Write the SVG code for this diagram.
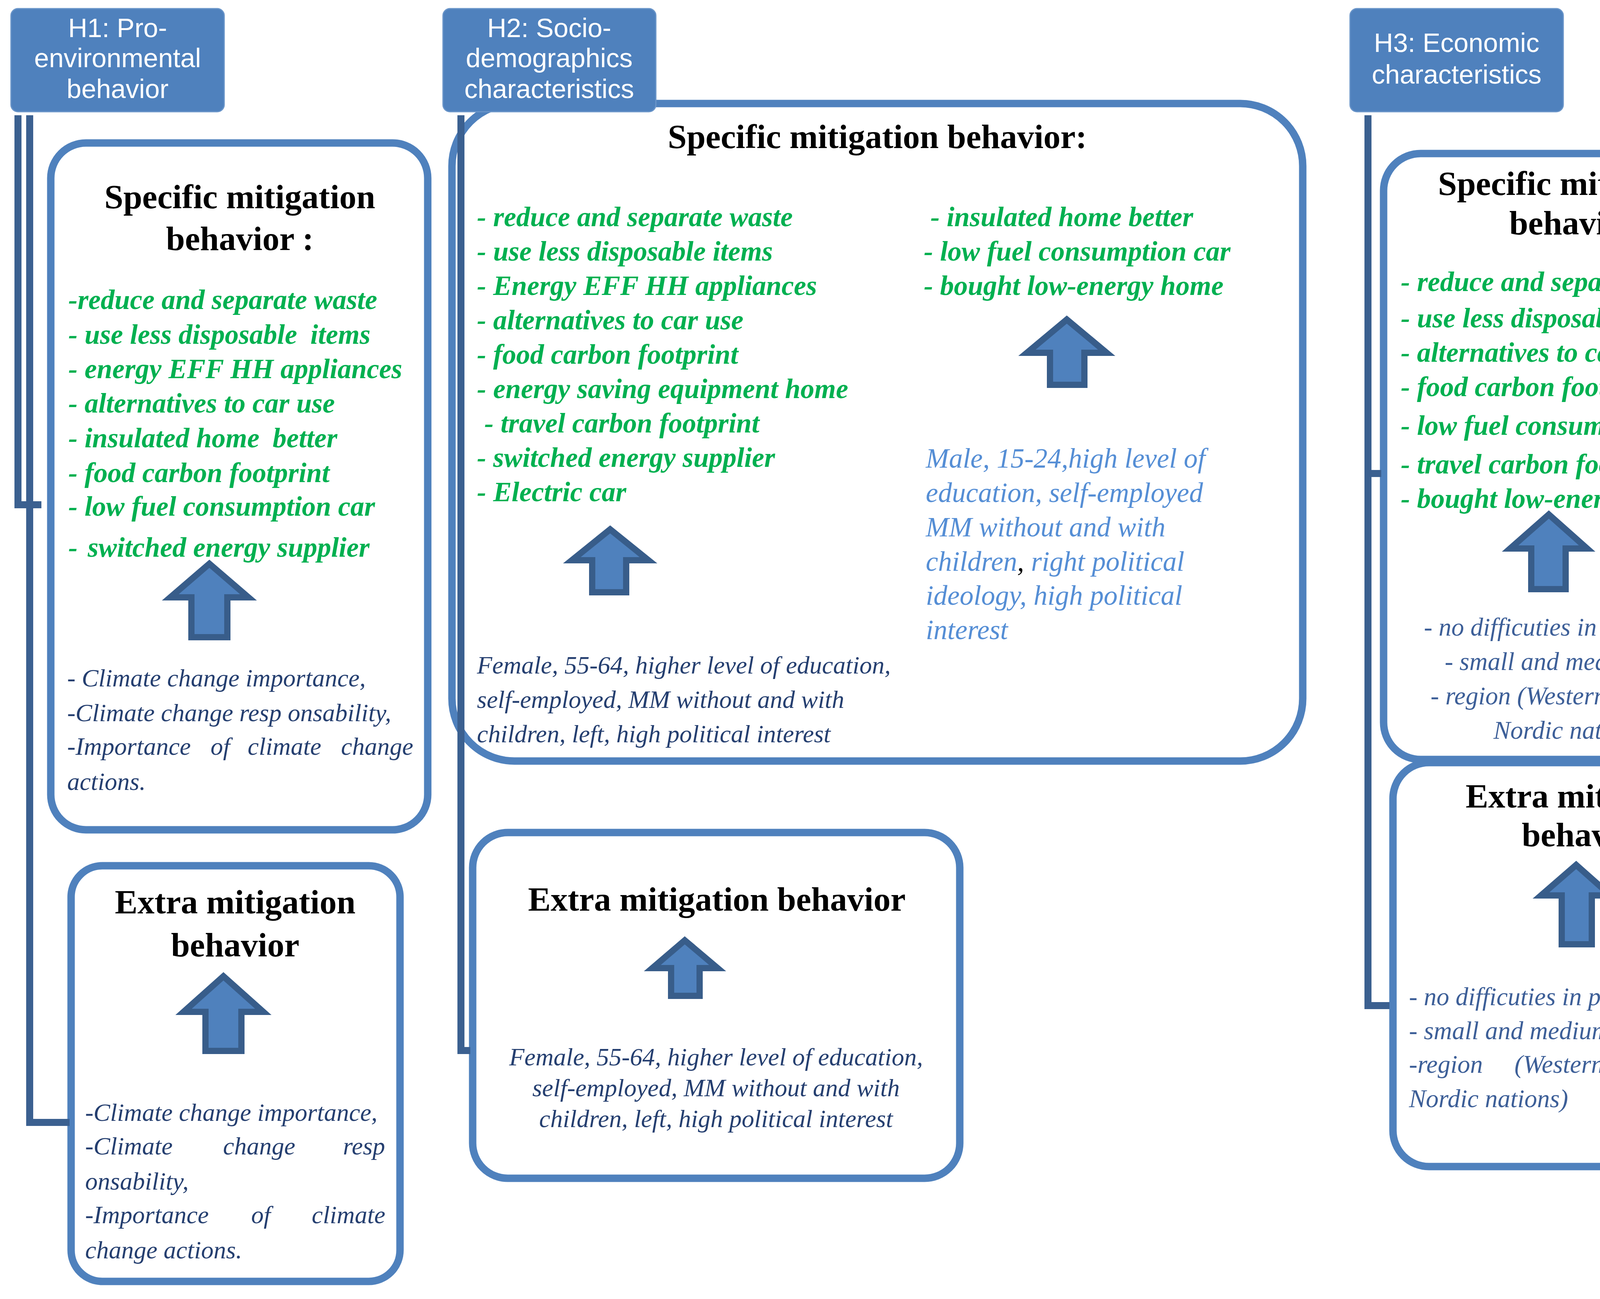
<svg xmlns="http://www.w3.org/2000/svg" width="5376" height="3325" viewBox="0 0 5376 3325">
<style>
text{white-space:pre}
.hdr{fill:#4F81BD;stroke:#6A95C9;stroke-width:3}
.hd{font-family:"Liberation Sans",Arial,sans-serif;font-size:68px;fill:#fff;text-anchor:middle}
.box{fill:#fff;stroke:#4F81BD;stroke-width:19}
.con{fill:none;stroke:#3B6090;stroke-width:18;stroke-linejoin:miter;stroke-linecap:butt}
.arr{fill:#4F81BD;stroke:#385D8A;stroke-width:16;stroke-linejoin:miter}
.tt{font-family:"Liberation Serif","Times New Roman",serif;font-weight:bold;font-size:87px;fill:#000;text-anchor:middle}
.gr{font-family:"Liberation Serif","Times New Roman",serif;font-style:italic;font-weight:bold;font-size:71px;fill:#00B050}
.nv{font-family:"Liberation Serif","Times New Roman",serif;font-style:italic;font-size:64px;fill:#253F70}
.lb{font-family:"Liberation Serif","Times New Roman",serif;font-style:italic;font-size:71px;fill:#558ED5}
.bl{font-family:"Liberation Serif","Times New Roman",serif;font-style:italic;font-size:65px;fill:#3D5F98}
.mid{text-anchor:middle}
</style>
<rect width="5376" height="3325" fill="#fff"/>

<g id="h1-specific">
<rect class="box" x="130" y="366" width="965" height="1758" rx="90"/>
<text class="tt" x="614" y="533">Specific mitigation</text>
<text class="tt" x="614" y="640">behavior :</text>
<text class="gr" x="175" y="791">-reduce and separate waste</text>
<text class="gr" x="175" y="880">- use less disposable <tspan dx="16">items</tspan></text>
<text class="gr" x="175" y="968">- energy EFF HH appliances</text>
<text class="gr" x="175" y="1056">- alternatives to car use</text>
<text class="gr" x="175" y="1145">- insulated home <tspan dx="16">better</tspan></text>
<text class="gr" x="175" y="1234">- food carbon footprint</text>
<text class="gr" x="175" y="1320">- low fuel consumption car</text>
<text class="gr" x="175" y="1425">- <tspan dx="8">switched energy supplier</tspan></text>
<polygon class="arr" points="536,1443 636,1529 582,1529 582,1631 490,1631 490,1529 436,1529"/>
<text class="nv" x="172" y="1757">- Climate change importance,</text>
<text class="nv" x="172" y="1846">-Climate change resp onsability,</text>
<text class="nv" y="1932"><tspan x="172">-Importance</tspan><tspan x="539">of</tspan><tspan x="634">climate</tspan><tspan x="873">change</tspan></text>
<text class="nv" x="172" y="2022">actions.</text>
</g>

<g id="h1-extra">
<rect class="box" x="182" y="2216" width="842" height="1064" rx="80"/>
<text class="tt" x="602" y="2338">Extra mitigation</text>
<text class="tt" x="602" y="2448">behavior</text>
<polygon class="arr" points="572,2499 674,2590 618,2590 618,2690 526,2690 526,2590 470,2590"/>
<text class="nv" x="218" y="2869">-Climate change importance,</text>
<text class="nv" y="2955"><tspan x="218">-Climate</tspan><tspan x="571">change</tspan><tspan x="878">resp</tspan></text>
<text class="nv" x="218" y="3045">onsability,</text>
<text class="nv" y="3131"><tspan x="218">-Importance</tspan><tspan x="643">of</tspan><tspan x="798">climate</tspan></text>
<text class="nv" x="218" y="3221">change actions.</text>
</g>

<g id="h2-specific">
<rect class="box" x="1157" y="265" width="2178" height="1683" rx="160"/>
<text class="tt" x="2246" y="379">Specific mitigation behavior:</text>
<text class="gr" x="1221" y="579">- reduce and separate waste</text>
<text class="gr" x="1221" y="667">- use less disposable items</text>
<text class="gr" x="1221" y="755">- Energy EFF HH appliances</text>
<text class="gr" x="1221" y="843">- alternatives to car use</text>
<text class="gr" x="1221" y="931">- food carbon footprint</text>
<text class="gr" x="1221" y="1019">- energy saving equipment home</text>
<text class="gr" x="1240" y="1107">- travel carbon footprint</text>
<text class="gr" x="1221" y="1195">- switched energy supplier</text>
<text class="gr" x="1221" y="1283">- Electric car</text>
<text class="gr" x="2382" y="579">- insulated home better</text>
<text class="gr" x="2365" y="667">- low fuel consumption car</text>
<text class="gr" x="2365" y="755">- bought low-energy home</text>
<polygon class="arr" points="2731,818 2833,903 2776,903 2776,985 2688,985 2688,903 2629,903"/>
<polygon class="arr" points="1562,1355 1660,1434 1603,1434 1603,1516 1516,1516 1516,1434 1464,1434"/>
<text class="lb" x="2370" y="1197">Male, 15-24,high level of</text>
<text class="lb" x="2370" y="1285">education, self-employed</text>
<text class="lb" x="2370" y="1373">MM without and with</text>
<text class="lb" x="2370" y="1461">children<tspan fill="#000">,</tspan> right political</text>
<text class="lb" x="2370" y="1548">ideology, high political</text>
<text class="lb" x="2370" y="1636">interest</text>
<text class="nv" x="1221" y="1724">Female, 55-64, higher level of education,</text>
<text class="nv" x="1221" y="1812">self-employed, MM without and with</text>
<text class="nv" x="1221" y="1900">children, left, high political interest</text>
</g>

<g id="h2-extra">
<rect class="box" x="1210" y="2131" width="1247" height="885" rx="90"/>
<text class="tt" x="1835" y="2331">Extra mitigation behavior</text>
<polygon class="arr" points="1753,2407 1837,2478 1791,2478 1791,2549 1718,2549 1718,2478 1670,2478"/>
<text class="nv mid" x="1833" y="2727">Female, 55-64, higher level of education,</text>
<text class="nv mid" x="1833" y="2806">self-employed, MM without and with</text>
<text class="nv mid" x="1833" y="2885">children, left, high political interest</text>
</g>

<g id="h3-specific">
<rect class="box" x="3542" y="393" width="974" height="1551" rx="95"/>
<text class="tt" x="4028" y="499">Specific mitigation</text>
<text class="tt" x="4028" y="600">behavior</text>
<text class="gr" x="3586" y="745">- reduce and separate waste</text>
<text class="gr" x="3586" y="838">- use less disposable items</text>
<text class="gr" x="3586" y="926">- alternatives to car use</text>
<text class="gr" x="3586" y="1014">- food carbon footprint</text>
<text class="gr" x="3586" y="1113">- low fuel consumption car</text>
<text class="gr" x="3586" y="1212">- travel carbon footprint</text>
<text class="gr" x="3586" y="1300">- bought low-energy home</text>
<polygon class="arr" points="3965,1317 4063,1404 4008,1404 4008,1508 3920,1508 3920,1404 3866,1404"/>
<text class="bl mid" x="4027" y="1627">- no difficuties in paying bills</text>
<text class="bl mid" x="4027" y="1715">- small and medium town</text>
<text class="bl mid" x="4027" y="1803">- region (Western Europe or</text>
<text class="bl mid" x="4027" y="1891">Nordic nations)</text>
</g>

<g id="h3-extra">
<rect class="box" x="3566" y="1952" width="987" height="1034" rx="92"/>
<text class="tt" x="4060" y="2067">Extra mitigation</text>
<text class="tt" x="4060" y="2166">behavior</text>
<polygon class="arr" points="4035,2214 4123,2292 4075,2292 4075,2417 3998,2417 3998,2292 3945,2292"/>
<text class="bl" x="3607" y="2573">- no difficuties in paying bills</text>
<text class="bl" x="3607" y="2660">- small and medium town</text>
<text class="bl" y="2746"><tspan x="3607">-region</tspan><tspan x="3877">(Western</tspan><tspan x="4196">Europe</tspan><tspan x="4459">or</tspan></text>
<text class="bl" x="3607" y="2834">Nordic nations)</text>
</g>

<g id="h4-extra">
<rect class="box" x="4691" y="366" width="611" height="2086" rx="60"/>
<text class="tt" x="4996" y="528">Higher level</text>
<text class="tt" x="4996" y="631">of Extra</text>
<text class="tt" x="4996" y="731">mitigation</text>
<text class="tt" x="4996" y="827">behavior</text>
<polygon class="arr" points="5007,981 5135,1086 5066,1086 5066,1197 4950,1197 4950,1086 4880,1086"/>
<g class="bl mid" style="font-size:68px">
<text x="4997" y="1316">- HDI</text>
<text x="4997" y="1405">- SPI</text>
<text x="4997" y="1495">- INTERNET</text>
<text x="4997" y="1584">SKILLS</text>
<text x="4997" y="1671">- INTERNET</text>
<text x="4997" y="1758">ACCESS</text>
<text x="4997" y="1847">- POLICY</text>
<text x="4997" y="1934">PERFORMANCE</text>
<text x="4997" y="2021">INDEX</text>
<text x="4997" y="2102">-</text>
<text x="4997" y="2196">ENVIRONMENTA</text>
<text x="4997" y="2285">L POLICY</text>
<text x="4997" y="2370">PROTECTION</text>
</g>
</g>

<g id="connectors">
<path class="con" d="M46,295 V1292 H106"/>
<path class="con" d="M76,295 V2873 H178"/>
<path class="con" d="M1180,295 V2689 H1204"/>
<path class="con" d="M3502,295 V2574 H3557"/>
<path class="con" d="M3502,1212 H3536"/>
<path class="con" d="M4605,295 V1150 H4665"/>
</g>

<g id="h1-header">
<rect class="hdr" x="28" y="22" width="546" height="264" rx="18"/>
<text class="hd" x="301" y="95">H1: Pro-</text>
<text class="hd" x="301" y="172">environmental</text>
<text class="hd" x="301" y="251">behavior</text>
</g>
<g id="h2-header">
<rect class="hdr" x="1134" y="22" width="545" height="264" rx="18"/>
<text class="hd" x="1406" y="95">H2: Socio-</text>
<text class="hd" x="1406" y="172">demographics</text>
<text class="hd" x="1406" y="251">characteristics</text>
</g>
<g id="h3-header">
<rect class="hdr" x="3456" y="22" width="546" height="264" rx="18"/>
<text class="hd" x="3729" y="133">H3: Economic</text>
<text class="hd" x="3729" y="214">characteristics</text>
</g>
<g id="h4-header">
<rect class="hdr" x="4586" y="23" width="550" height="262" rx="18"/>
<text class="hd" x="4861" y="93">H4:</text>
<text class="hd" x="4861" y="174">Modernisation</text>
<text class="hd" x="4861" y="253">theory</text>
</g>
</svg>
